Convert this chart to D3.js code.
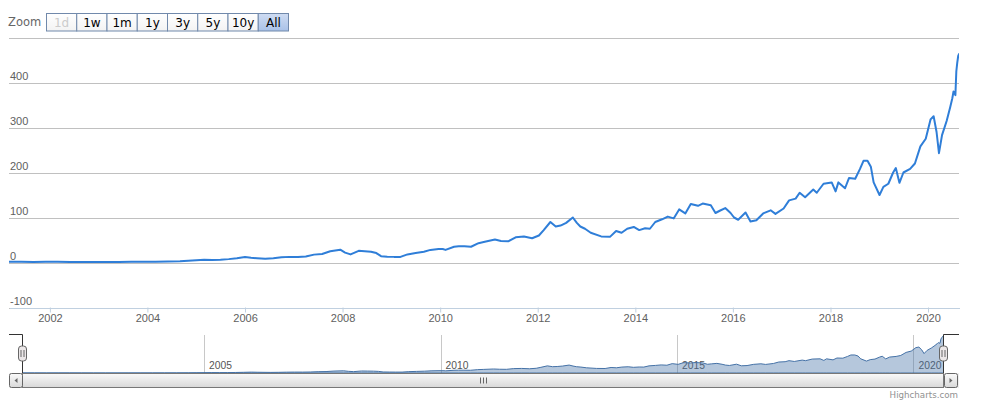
<!DOCTYPE html>
<html>
<head>
<meta charset="utf-8">
<script src="https://cdn.jsdelivr.net/npm/d3@7"></script>
<style>
  html, body { margin: 0; padding: 0; background: #fff; }
  svg { display: block; font-family: "DejaVu Sans", Verdana, sans-serif; }
</style>
</head>
<body>
<svg id="chart" width="982" height="414"></svg>
<script>
// ---------- data ----------
const dates = [
  "2001-03-01","2001-06-01","2001-09-01","2001-12-01","2002-03-01","2002-06-01","2002-09-01","2002-12-01",
  "2003-03-01","2003-06-01","2003-09-01","2003-12-01","2004-03-01","2004-06-01","2004-09-01","2004-11-01",
  "2005-01-01","2005-03-01","2005-05-01","2005-07-01","2005-09-01","2005-11-01","2006-01-01","2006-02-15",
  "2006-04-01","2006-06-01","2006-08-01","2006-10-01","2006-12-01","2007-02-01","2007-04-01","2007-06-01",
  "2007-08-01","2007-10-01","2007-12-15","2008-01-20","2008-03-01","2008-05-01","2008-06-15","2008-08-01",
  "2008-09-10","2008-10-15","2008-12-01","2009-01-20","2009-03-10","2009-05-01","2009-07-01","2009-09-01",
  "2009-10-20","2009-12-20","2010-01-20","2010-02-10","2010-04-15","2010-05-20","2010-07-01","2010-08-20",
  "2010-10-15","2010-12-01","2011-02-15","2011-04-01","2011-05-25","2011-07-20","2011-09-20","2011-11-20",
  "2012-01-10","2012-02-15","2012-04-05","2012-05-15","2012-06-20","2012-08-01","2012-09-20","2012-10-20",
  "2012-11-15","2012-12-20","2013-02-01","2013-04-20","2013-06-25","2013-08-10","2013-09-20","2013-11-01",
  "2013-12-20","2014-01-30","2014-03-15","2014-04-20","2014-05-30","2014-07-20","2014-09-01","2014-10-15",
  "2014-11-25","2015-01-10","2015-02-20","2015-04-15","2015-05-20","2015-07-20","2015-08-24","2015-09-25",
  "2015-11-05","2015-12-15","2016-01-10","2016-02-10","2016-04-05","2016-05-12","2016-06-25","2016-08-15",
  "2016-10-10","2016-11-15","2017-01-15","2017-02-25","2017-04-15","2017-05-15","2017-06-25","2017-08-25",
  "2017-09-20","2017-11-10","2018-01-10","2018-02-08","2018-03-01","2018-04-20","2018-05-20","2018-07-05",
  "2018-08-10","2018-09-05","2018-10-05","2018-10-30","2018-11-20","2019-01-03","2019-02-01","2019-03-10",
  "2019-04-15","2019-05-05","2019-06-01","2019-07-01","2019-08-20","2019-09-25","2019-11-05","2019-12-15",
  "2020-01-20","2020-02-12","2020-03-05","2020-03-23","2020-04-15","2020-05-20","2020-06-15","2020-07-01",
  "2020-07-10","2020-07-24","2020-07-31","2020-08-07","2020-08-14","2020-08-20"
];
const prices = [
  1.4,1.5,1.1,1.5,1.6,1.3,1.0,1.0,
  1.0,1.3,1.5,1.5,1.8,2.3,2.6,4.0,
  5.0,6.0,5.5,6.0,7.5,9.5,12.0,10.5,
  9.5,8.5,9.5,11.5,12.5,12.3,13.5,17.5,
  19,25,28.5,22,18,26,25,24,
  21,14,13,12.5,12.5,18,21,24,
  28,30,30,28,35,36,36,35,
  43,46,51,48,47,56,58,54,
  60,72,90,80,82,88,100,88,
  80,75,66,58,57,70,66,75,
  79,72,76,75,90,96,102,98,
  118,109,130,126,131,127,110,115,
  121,110,100,95,111,91,94,109,
  116,108,120,138,142,155,145,162,
  155,175,178,158,178,165,188,186,
  208,226,226,213,178,150,168,175,
  200,210,177,200,208,220,258,275,
  318,325,290,243,283,315,345,365,
  380,372,425,444,459,463
];
const yTickValues = [-100, 0, 100, 200, 300, 400, 500];
const xTickYears = [2002, 2004, 2006, 2008, 2010, 2012, 2014, 2016, 2018, 2020];
const navTickYears = [2005, 2010, 2015, 2020];
const zoomButtons = ["1d", "1w", "1m", "1y", "3y", "5y", "10y", "All"];

// ---------- setup ----------
const parse = d3.timeParse("%Y-%m-%d");
const series = dates.map((d, i) => ({ date: parse(d), value: prices[i] }));
const svg = d3.select("#chart");
const defs = svg.append("defs");

const plot = { left: 9, right: 959, top: 37.5, bottom: 307.5 };
const x = d3.scaleTime()
  .domain(d3.extent(series, d => d.date))
  .range([plot.left, plot.right]);
const y = d3.scaleLinear()
  .domain([-100, 500])
  .range([plot.bottom, plot.top]);

// ---------- range selector ----------
svg.append("text").attr("x", 8).attr("y", 26)
  .attr("font-size", 11.5).attr("fill", "#666").text("Zoom");

const btnGradNormal = defs.append("linearGradient").attr("id", "btnNorm")
  .attr("x1", 0).attr("y1", 0).attr("x2", 0).attr("y2", 1);
btnGradNormal.append("stop").attr("offset", 0).attr("stop-color", "#ffffff");
btnGradNormal.append("stop").attr("offset", 1).attr("stop-color", "#f3f3f3");
const btnGradSel = defs.append("linearGradient").attr("id", "btnSel")
  .attr("x1", 0).attr("y1", 0).attr("x2", 0).attr("y2", 1);
btnGradSel.append("stop").attr("offset", 0).attr("stop-color", "#cfdcf2");
btnGradSel.append("stop").attr("offset", 1).attr("stop-color", "#a9c2e8");

const btnX = d3.scaleBand().domain(zoomButtons).range([46.5, 288.5]).padding(0);
const btn = svg.append("g").selectAll("g").data(zoomButtons).join("g");
btn.append("rect")
  .attr("x", d => btnX(d)).attr("y", 13.5)
  .attr("width", btnX.bandwidth()).attr("height", 17.5)
  .attr("fill", d => d === "All" ? "url(#btnSel)" : "url(#btnNorm)")
  .attr("stroke", "#7189ab").attr("stroke-width", 1);
btn.append("text")
  .attr("x", d => btnX(d) + btnX.bandwidth() / 2).attr("y", 26.5)
  .attr("text-anchor", "middle").attr("font-size", 12)
  .attr("fill", d => d === "1d" ? "#cccccc" : "#000")
  .text(d => d);

// ---------- y grid ----------
const yAxis = d3.axisRight(y).tickValues(yTickValues)
  .tickSize(plot.right - plot.left).tickFormat(d => d === 500 ? "" : String(d));
const gy = svg.append("g").attr("transform", `translate(${plot.left},0)`).call(yAxis);
gy.select(".domain").remove();
gy.selectAll(".tick line").attr("stroke", "#c0c0c0").attr("shape-rendering", "crispEdges");
gy.selectAll(".tick text")
  .attr("x", 1).attr("dy", -3).attr("text-anchor", "start")
  .attr("font-size", 11).attr("fill", "#606060").attr("font-family", null);

// ---------- x axis ----------
const xAxis = d3.axisBottom(x)
  .tickValues(xTickYears.map(yr => new Date(yr, 0, 1)))
  .tickSize(5).tickSizeOuter(0).tickFormat(d3.timeFormat("%Y"));
const gx = svg.append("g").attr("transform", `translate(0,${plot.bottom})`).call(xAxis);
gx.select(".domain").attr("stroke", "#C0D0E0").attr("shape-rendering", "crispEdges");
gx.selectAll(".tick line").attr("stroke", "#C0D0E0");
gx.selectAll(".tick text").attr("y", 14.5).attr("dy", 0)
  .attr("font-size", 11).attr("fill", "#606060").attr("font-family", null);

// ---------- main line ----------
defs.append("clipPath").attr("id", "plotClip").append("rect")
  .attr("x", plot.left).attr("y", plot.top - 5)
  .attr("width", plot.right - plot.left).attr("height", plot.bottom - plot.top + 5);
svg.append("path").datum(series)
  .attr("clip-path", "url(#plotClip)")
  .attr("fill", "none").attr("stroke", "#2f7ed8").attr("stroke-width", 2)
  .attr("stroke-linejoin", "round").attr("stroke-linecap", "round")
  .attr("d", d3.line().x(d => x(d.date)).y(d => y(d.value)));

// ---------- navigator ----------
const nav = { left: 22.5, right: 943.5, top: 334.5, bottom: 373 };
const nx = d3.scaleTime().domain(x.domain()).range([nav.left, nav.right]);
const ny = d3.scaleLinear().domain(d3.extent(series, d => d.value)).range([nav.bottom, 336]);

const navAxis = d3.axisBottom(nx)
  .tickValues(navTickYears.map(yr => new Date(yr, 0, 1)))
  .tickSize(-(nav.bottom - nav.top)).tickSizeOuter(0).tickFormat(d3.timeFormat("%Y"));
const gn = svg.append("g").attr("transform", `translate(0,${nav.bottom})`).call(navAxis);
gn.select(".domain").remove();
gn.selectAll(".tick line").attr("stroke", "#c8c8c8").attr("shape-rendering", "crispEdges");
gn.selectAll(".tick text").attr("x", 4.5).attr("y", -4).attr("dy", 0)
  .attr("text-anchor", "start").attr("font-size", 10.3).attr("fill", "#555").attr("font-family", null);

svg.append("path").datum(series)
  .attr("fill", "rgba(69,114,167,0.4)")
  .attr("stroke", "#4572A7").attr("stroke-width", 1)
  .attr("d", d3.area().x(d => nx(d.date)).y0(nav.bottom).y1(d => ny(d.value)));

// ---------- scrollbar ----------
const sb = { top: 373.5, bottom: 387.5 };
const sbGrad = defs.append("linearGradient").attr("id", "sbGrad")
  .attr("x1", 0).attr("y1", 0).attr("x2", 0).attr("y2", 1);
sbGrad.append("stop").attr("offset", 0).attr("stop-color", "#fafafa");
sbGrad.append("stop").attr("offset", 1).attr("stop-color", "#d8d8d8");
svg.append("rect").attr("x", 9.5).attr("y", sb.top).attr("width", 949).attr("height", sb.bottom - sb.top)
  .attr("fill", "#eeeeee").attr("stroke", "#eeeeee");
svg.append("rect").attr("x", nav.left).attr("y", sb.top).attr("width", nav.right - nav.left)
  .attr("height", sb.bottom - sb.top).attr("fill", "url(#sbGrad)").attr("stroke", "#777");
[483, 486, 480].forEach(gxp => {
  svg.append("line").attr("x1", gxp + 0.5).attr("x2", gxp + 0.5).attr("y1", 377.5).attr("y2", 383.5)
    .attr("stroke", "#666");
});
// buttons
[[9.5, "left"], [944.5, "right"]].forEach(([bx, dir]) => {
  svg.append("rect").attr("x", bx).attr("y", sb.top).attr("width", 13).attr("height", sb.bottom - sb.top)
    .attr("rx", 2).attr("fill", "url(#sbGrad)").attr("stroke", "#666");
  const cx = bx + 6.5, cy = (sb.top + sb.bottom) / 2;
  const pts = dir === "left"
    ? [[cx - 1.5, cy], [cx + 1.5, cy - 2.5], [cx + 1.5, cy + 2.5]]
    : [[cx + 1.5, cy], [cx - 1.5, cy - 2.5], [cx - 1.5, cy + 2.5]];
  svg.append("path").attr("d", d3.line()(pts) + "Z").attr("fill", "#666");
});

// outline
svg.append("path")
  .attr("d", `M${plot.left},${nav.top}H${nav.left}V${nav.bottom}M${nav.right},${nav.bottom}V${nav.top}H${plot.right}`)
  .attr("fill", "none").attr("stroke", "#333").attr("stroke-width", 1);

// handles
[nav.left, nav.right].forEach(hx => {
  svg.append("rect").attr("x", hx - 4).attr("y", 346).attr("width", 8).attr("height", 15)
    .attr("rx", 3).attr("fill", "#ebe7e8").attr("stroke", "#666");
  [-1.5, 1.5].forEach(o => {
    svg.append("line").attr("x1", hx + o).attr("x2", hx + o).attr("y1", 350).attr("y2", 357)
      .attr("stroke", "#666");
  });
});

// ---------- credits ----------
svg.append("text").attr("x", 958).attr("y", 397.5).attr("text-anchor", "end")
  .attr("font-size", 8.7).attr("fill", "#909090").text("Highcharts.com");
</script>
</body>
</html>
